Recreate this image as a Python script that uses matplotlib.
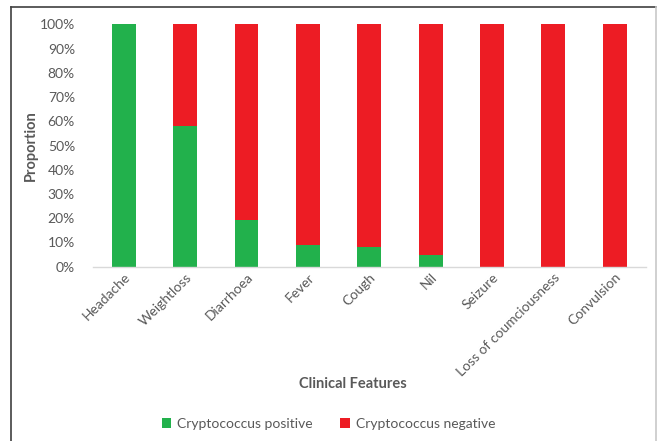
import matplotlib.pyplot as plt
import numpy as np
from matplotlib.lines import Line2D
from matplotlib.ticker import PercentFormatter

features = ['Headache', 'Weightloss', 'Diarrhoea', 'Fever', 'Cough', 'Nil',
            'Seizure', 'Loss of coumciousness', 'Convulsion']
positive = [100, 58, 19.3, 9, 8.3, 4.8, 0, 0, 0]
negative = [0, 42, 80.7, 91, 91.7, 95.2, 100, 100, 100]

green = '#22B14C'
red = '#ED1C24'
text_col = '#595959'

plt.rcParams['font.family'] = ['Lato', 'DejaVu Sans']

fig = plt.figure(figsize=(6.57, 4.41), dpi=100)
ax = fig.add_axes([0.1416, 0.3952, 0.8409, 0.5497])

x = np.arange(len(features))
ax.bar(x, positive, width=0.39, color=green, label='Cryptococcus positive')
ax.bar(x, negative, width=0.39, bottom=positive, color=red, label='Cryptococcus negative')

ax.set_xlim(-0.5, len(features) - 0.5)
ax.set_ylim(0, 100)
ax.set_yticks(np.arange(0, 101, 10))
ax.yaxis.set_major_formatter(PercentFormatter(decimals=0))
ax.tick_params(axis='y', length=0, pad=13, labelsize=10, labelcolor=text_col)
ax.tick_params(axis='x', length=0, pad=3, labelsize=10, labelcolor=text_col)
ax.set_xticks(x)
ax.set_xticklabels(features, rotation=45, ha='right', rotation_mode='anchor')

for side in ['top', 'right', 'left']:
    ax.spines[side].set_visible(False)
ax.spines['bottom'].set_color('#D9D9D9')
ax.spines['bottom'].set_linewidth(1.0)

ax.set_ylabel('Proportion', fontsize=10.5, fontweight='bold', color=text_col, labelpad=1)
fig.text(0.537, 0.129, 'Clinical Features', ha='center', va='center',
         fontsize=10.5, fontweight='bold', color=text_col)

fig.legend(loc='center', bbox_to_anchor=(0.5, 0.039), ncol=2, frameon=False,
           fontsize=10, labelcolor=text_col, handlelength=0.7, handleheight=0.7,
           handletextpad=0.4, columnspacing=2.0)

# outer chart frame: dark left/top, light right
fl, ft, fr = 10.5 / 657, 1 - 6.5 / 441, 655.5 / 657
fig.lines.append(Line2D([fl, fl], [0, ft], transform=fig.transFigure, color='#404040', lw=1.2))
fig.lines.append(Line2D([fl, fr], [ft, ft], transform=fig.transFigure, color='#404040', lw=1.2))
fig.lines.append(Line2D([fr, fr], [0, ft], transform=fig.transFigure, color='#C8C8C8', lw=1.2))

fig.savefig('out.png', dpi=100)
